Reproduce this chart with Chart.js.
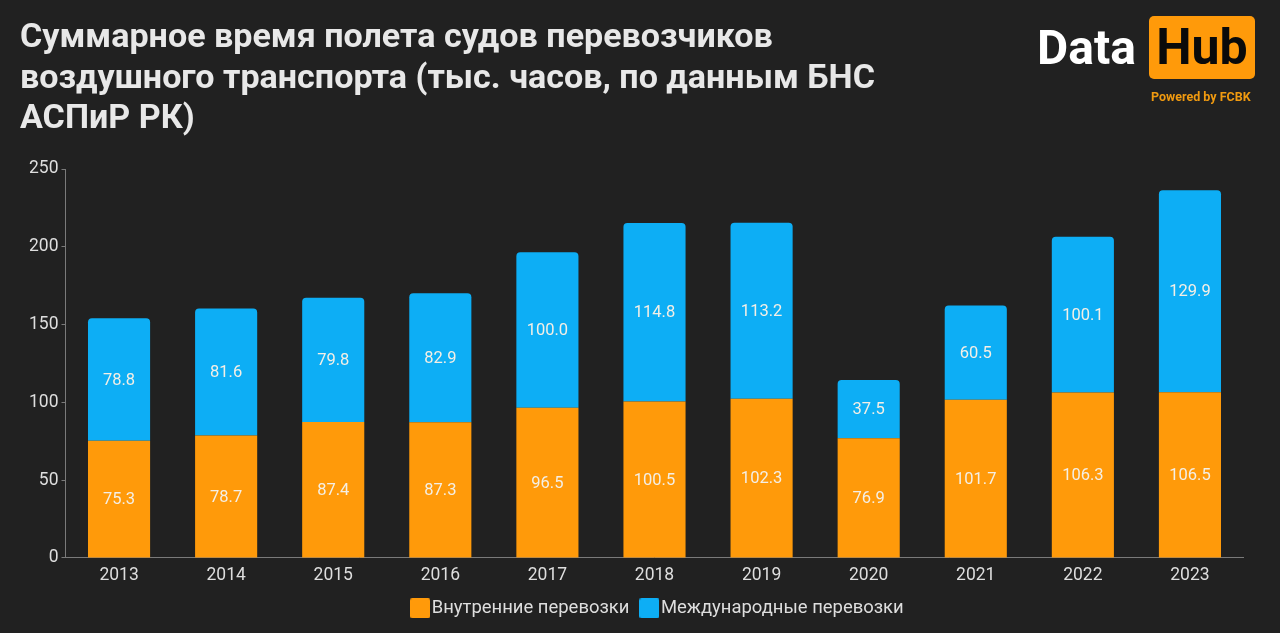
<!DOCTYPE html>
<html><head><meta charset="utf-8">
<script src="https://cdn.jsdelivr.net/npm/chart.js@4"></script>
<style>
html,body{margin:0;padding:0;background:#212121;width:1280px;height:633px;overflow:hidden;font-family:Roboto,sans-serif}
#wrap{position:absolute;left:0;top:0;width:1280px;height:633px}
#title{position:absolute;left:20px;top:15px;font-size:34.1px;line-height:40.5px;font-weight:700;color:#e8e8e8;white-space:pre}
#data{position:absolute;left:1037px;top:21px;font-size:48px;line-height:54px;font-weight:700;color:#fff}
#hub{position:absolute;left:1149px;top:16px;width:106px;height:63px;background:#ff9a0a;border-radius:5px;color:#0a0a0a;font-size:50px;line-height:62px;font-weight:700;text-align:center}
#pow{position:absolute;left:1151px;top:88.5px;font-size:12.5px;line-height:15px;font-weight:700;color:#f09a10}
</style></head><body>
<div id="wrap"><canvas id="c" width="1280" height="633"></canvas></div>
<div id="title">Суммарное время полета судов перевозчиков
воздушного транспорта (тыс. часов, по данным БНС
АСПиР РК)</div>
<div id="data">Data</div>
<div id="hub">Hub</div>
<div id="pow">Powered by FCBK</div>
<script>
const years=['2013','2014','2015','2016','2017','2018','2019','2020','2021','2022','2023'];
const domestic=[75.3,78.7,87.4,87.3,96.5,100.5,102.3,76.9,101.7,106.3,106.5];
const international=[78.8,81.6,79.8,82.9,100.0,114.8,113.2,37.5,60.5,100.1,129.9];
const yTicks=[0,50,100,150,200,250];
function swatch(color){
  const s=document.createElement('canvas');s.width=20;s.height=20;
  const g=s.getContext('2d');g.fillStyle=color;g.beginPath();g.roundRect(0,0,20,20,2);g.fill();
  return s;
}
const labelsPlugin={id:'segLabels',
 afterLayout(ch){const l=ch.legend;l.left+=39;l.right+=39;l.top-=5.5;l.bottom-=5.5;},
 afterDatasetsDraw(ch){
  const g=ch.ctx;g.save();g.font='400 16.5px Roboto';g.fillStyle='#f4efe6';g.textAlign='center';g.textBaseline='middle';
  ch.data.datasets.forEach((ds,i)=>{ch.getDatasetMeta(i).data.forEach((el,j)=>{
    const p=el.getProps(['x','y','base'],true);
    g.fillText(ds.data[j].toFixed(1),p.x,(p.y+p.base)/2+1);
  });});
  g.restore();
}};
new Chart(document.getElementById('c'),{
  type:'bar',
  data:{labels:years,datasets:[
    {label:'Внутренние перевозки',data:domestic,backgroundColor:'#ff9a0a',stack:'a',borderRadius:0},
    {label:'Международные перевозки',data:international,backgroundColor:'#0daef5',stack:'a',borderRadius:{topLeft:4,topRight:4,bottomLeft:0,bottomRight:0},borderSkipped:'bottom'}
  ]},
  options:{
    responsive:false,animation:false,devicePixelRatio:1,
    layout:{padding:{left:0,right:36.5,top:169,bottom:0}},
    datasets:{bar:{barPercentage:0.58,categoryPercentage:1}},
    plugins:{tooltip:{enabled:false},title:{display:false},
      legend:{position:'bottom',labels:{color:'#dedede',font:{family:'Roboto',size:18.45},usePointStyle:true,boxWidth:4.75,boxHeight:20,padding:17.6,
        generateLabels(ch){return ch.data.datasets.map((d,i)=>({text:d.label,pointStyle:swatch(d.backgroundColor),fillStyle:d.backgroundColor,strokeStyle:d.backgroundColor,lineWidth:0,fontColor:'#dedede',datasetIndex:i}));}}}},
    scales:{
      x:{stacked:true,grid:{display:false,drawTicks:true,tickLength:4},border:{color:'#7a7a7a',width:1},
         ticks:{color:'#dedede',font:{family:'Roboto',size:17.5},padding:3,maxRotation:0},
         afterFit(a){a.height=29;}},
      y:{stacked:true,min:0,max:250,afterBuildTicks(a){a.ticks=yTicks.map(v=>({value:v}));},
         afterFit(a){a.width=65.5;},
         grid:{display:true,drawOnChartArea:false,drawTicks:true,tickLength:4,color:'#7a7a7a'},border:{color:'#7a7a7a',width:1},
         ticks:{color:'#dedede',font:{family:'Roboto',size:17.5},padding:3}}
    }
  },
  plugins:[labelsPlugin]
});
</script>
</body></html>
